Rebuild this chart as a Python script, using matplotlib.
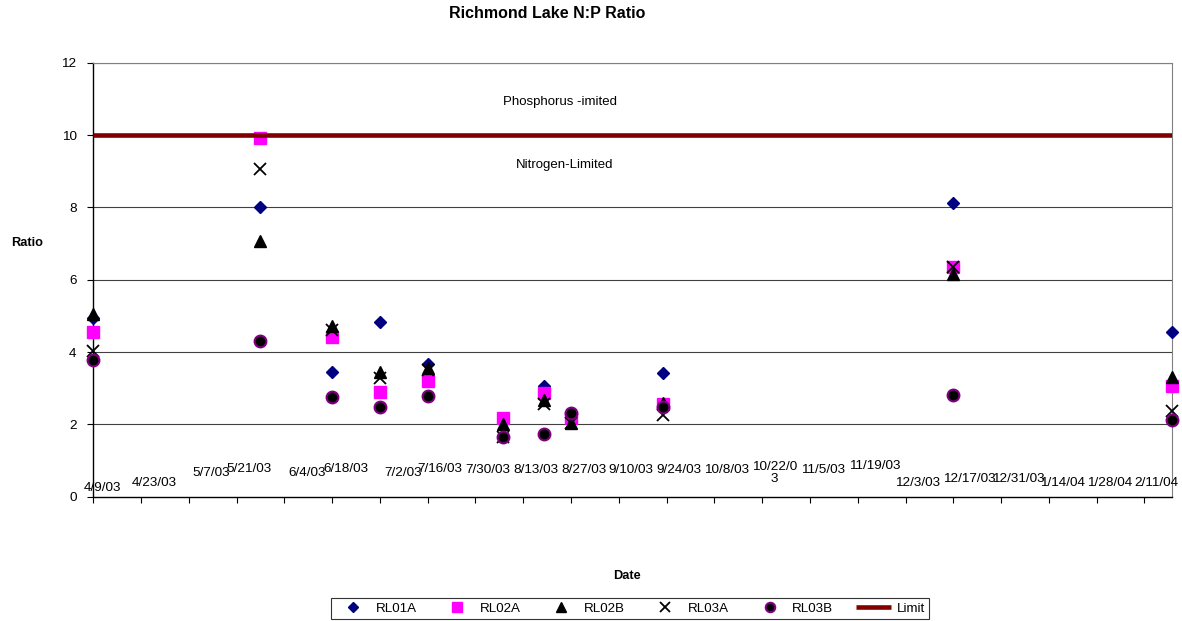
import datetime as dt
import matplotlib
matplotlib.use("Agg")
import matplotlib.pyplot as plt
import matplotlib.transforms as mtransforms

plt.rcParams['font.family'] = ['Liberation Sans', 'DejaVu Sans']

# ---------------- data ----------------
sample_dates = ["2003-04-09", "2003-05-28", "2003-06-18", "2003-07-02", "2003-07-16",
                "2003-08-07", "2003-08-19", "2003-08-27", "2003-09-23", "2003-12-17",
                "2004-02-19"]
rl01a = [4.95, 8.02, 3.46, 4.82, 3.66, 2.17, 3.06, 2.10, 3.41, 8.13, 4.54]
rl02a = [4.56, 9.93, 4.41, 2.89, 3.20, 2.17, 2.86, 2.17, 2.56, 6.36, 3.06]
rl02b = [5.05, 7.08, 4.73, 3.46, 3.55, 2.01, 2.67, 2.03, 2.58, 6.15, 3.32]
rl03a = [4.03, 9.05, 4.62, 3.29, 3.50, 1.64, 2.56, 2.05, 2.26, 6.36, 2.38]
rl03b = [3.78, 4.30, 2.76, 2.49, 2.79, 1.64, 1.74, 2.31, 2.47, 2.81, 2.12]
limit = 10

tick_labels = ["4/9/03", "4/23/03", "5/7/03", "5/21/03", "6/4/03", "6/18/03", "7/2/03",
               "7/16/03", "7/30/03", "8/13/03", "8/27/03", "9/10/03", "9/24/03",
               "10/8/03", "10/22/0\n3", "11/5/03", "11/19/03", "12/3/03", "12/17/03",
               "12/31/03", "1/14/04", "1/28/04", "2/11/04"]
y_ticks = [0, 2, 4, 6, 8, 10, 12]

# label layout (Excel-style staggered labels): x offset in pixels, y in data units
label_dx = [9.4, 13.2, 22.8, 12.6, 23.2, 13.4, 23.2, 12.0, 12.6, 12.5, 12.7, 12.2, 12.4,
            12.6, 12.5, 12.7, 16.9, 12.4, 16.3, 16.8, 14.0, 12.9, 11.8]
label_y = [0.25, 0.37, 0.65, 0.76, 0.65, 0.76, 0.65, 0.76, 0.74, 0.74, 0.74, 0.74, 0.74,
           0.74, 0.65, 0.74, 0.86, 0.37, 0.48, 0.48, 0.37, 0.37, 0.37]

dates = [dt.datetime.strptime(d, "%Y-%m-%d") for d in sample_dates]
start = dates[0]
end = dates[-1]
tick_dates = [start + dt.timedelta(days=14 * i) for i in range(len(tick_labels))]

# ---------------- figure ----------------
fig = plt.figure(figsize=(11.82, 6.21), dpi=100)
ax = fig.add_axes([0.0789, 0.2002, 0.9124, 0.6988])

grid_color = '#404040'
for yv in y_ticks[1:]:
    ax.axhline(yv, color=grid_color, lw=0.8, zorder=1)

ms_kw = dict(linestyle='none', zorder=3, clip_on=False)
ax.plot(dates, rl01a, marker='D', ms=6.5, mfc='#000080', mec='#000080', label='RL01A', **ms_kw)
ax.plot(dates, rl02a, marker='s', ms=9.0, mfc='#FF00FF', mec='#FF00FF', label='RL02A', **ms_kw)
ax.plot(dates, rl02b, marker='^', ms=9.0, mfc='black', mec='black', label='RL02B', **ms_kw)
ax.plot(dates, rl03a, marker='x', ms=9.0, mew=1.3, color='black', label='RL03A', **ms_kw)
ax.plot(dates, rl03b, marker='o', ms=8.5, mfc='black', mec='#800080', mew=1.5, label='RL03B', **ms_kw)
ax.plot([start, end], [limit, limit], color='#800000', lw=3.3, label='Limit', zorder=4,
        solid_capstyle='butt')

ax.set_xlim(start, end)
ax.set_ylim(0, 12)
ax.set_yticks(y_ticks)
ax.set_yticklabels([str(v) for v in y_ticks], fontsize=9.7)
ax.set_xticks(tick_dates)
ax.set_xticklabels([])
ax.tick_params(axis='both', direction='out', length=4, width=0.8, color='black')
ax.tick_params(axis='y', pad=8)

for side in ['top', 'right']:
    ax.spines[side].set_color('#808080')
    ax.spines[side].set_linewidth(0.8)
for side in ['left', 'bottom']:
    ax.spines[side].set_color('black')
    ax.spines[side].set_linewidth(1.0)
ax.spines['left'].set_zorder(2)

# staggered date labels
for d, lab, dx, yv in zip(tick_dates, tick_labels, label_dx, label_y):
    tr = mtransforms.offset_copy(ax.transData, fig=fig, x=dx, y=0, units='dots')
    ax.text(d, yv, lab, transform=tr, ha='center', va='center', fontsize=9.7,
            linespacing=1.05, zorder=5, clip_on=False)

ax.text(0.4328, 0.909, "Phosphorus -imited", transform=ax.transAxes, ha='center',
        va='center', fontsize=9.5)
ax.text(0.4374, 0.764, "Nitrogen-Limited", transform=ax.transAxes, ha='center',
        va='center', fontsize=9.5)

fig.text(547.5 / 1182, 1 - 14 / 621, "Richmond Lake N:P Ratio", ha='center', va='center',
         fontsize=11.5, fontweight='bold')
fig.text(27 / 1182, 1 - 243 / 621, "Ratio", ha='center', va='center', fontsize=9.2,
         fontweight='bold')
fig.text(627.5 / 1182, 1 - 576 / 621, "Date", ha='center', va='center', fontsize=9.2,
         fontweight='bold')

leg = fig.legend(loc='center', bbox_to_anchor=(630 / 1182, 1 - 608.5 / 621), ncol=6,
                 fontsize=9.6, frameon=True, fancybox=False, edgecolor='black',
                 handlelength=2.63, handletextpad=0.38, columnspacing=1.73,
                 borderpad=0.3, borderaxespad=0, markerscale=0.8)
leg.get_frame().set_linewidth(0.8)

fig.savefig("out.png", dpi=100)
